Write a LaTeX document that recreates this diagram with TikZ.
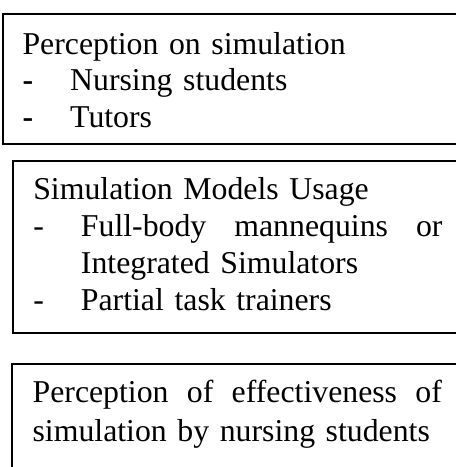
\documentclass[tikz,border=0pt]{standalone}
\usepackage{fontspec}
\setmainfont{Liberation Serif}
\usetikzlibrary{positioning}
\tikzset{
    marco/.style={rectangle, draw=black, line width=0.8pt, anchor=north west, inner sep=0pt},
    texto/.style={anchor=base west, inner sep=0pt, align=left, text width=5.6cm,
        font=\fontsize{12}{13.9}\selectfont}
}
\newcommand{\guion}[1]{\makebox[18pt][l]{-}#1}
\newcommand{\guionb}[1]{\makebox[18pt][l]{\textbf{-}}#1}

\begin{document}
\begin{tikzpicture}
        \useasboundingbox (0,0) rectangle (6.05,6.197);
        \clip (0,0) rectangle (6.05,6.197);

        % Cajas (salen por la derecha)
        \node[marco, minimum width=6.12cm, minimum height=1.725cm] (caja1) at (0.027,6.023) {};
        \node[marco, minimum width=6.0cm, minimum height=2.28cm] (caja2) at (0.155,4.073) {};
        \node[marco, minimum width=6.0cm, minimum height=1.8cm] (caja3) at (0.146,1.380) {};

        % Textos
        \node[texto] (perc) at ([xshift=0.265cm, yshift=-0.544cm]caja1.north west)
            {Perception on simulation\\
             \guionb{Nursing students}\\
             \guionb{Tutors}};
        \node[texto] (modelos) at ([xshift=0.28cm, yshift=-0.53cm]caja2.north west)
            {Simulation Models Usage\\
             \guion{\makebox[136.5pt][l]{Full-body\hfill mannequins\hfill or}}\\
             \hspace*{18pt}Integrated Simulators\\
             \guion{Partial task trainers}};
        \node[texto, font=\fontsize{12}{14.5}\selectfont] (efect) at ([xshift=0.28cm, yshift=-0.53cm]caja3.north west)
            {\makebox[154.5pt][l]{Perception\hfill of\hfill effectiveness\hfill of}\\
             simulation by nursing students};
    \end{tikzpicture}
\end{document}
